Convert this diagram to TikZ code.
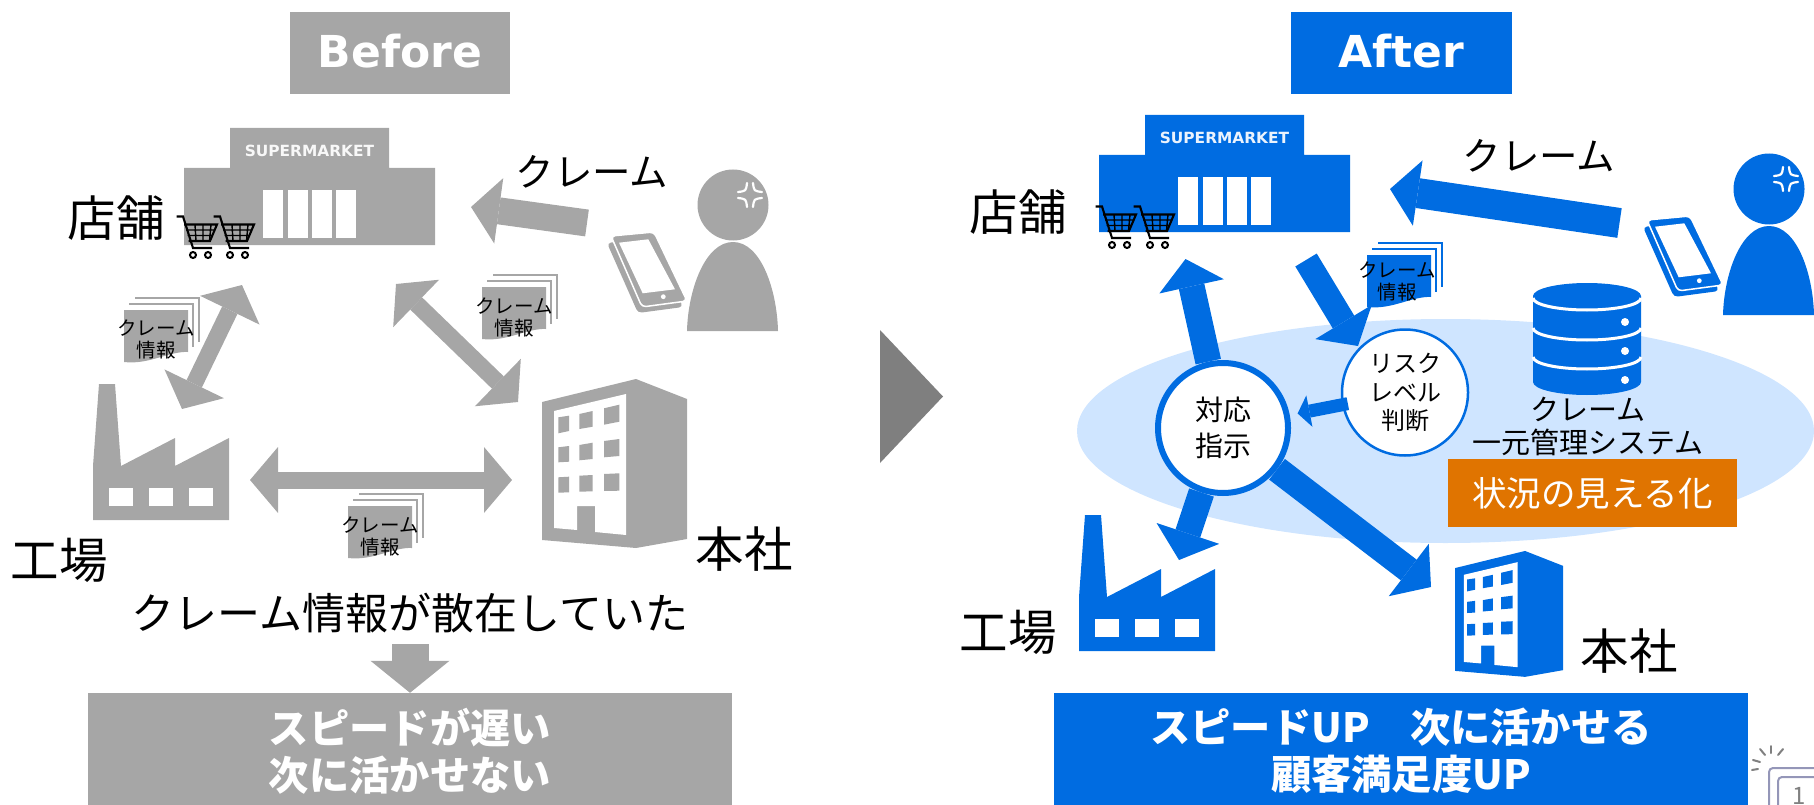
\documentclass[tikz,border=0pt]{standalone}
\usepackage{fontspec}
\usepackage{tikz}
\usetikzlibrary{arrows.meta}
\setmainfont{Noto Sans CJK JP}
\newfontfamily\latinb{DejaVu Sans}
\newcommand{\fsz}[2]{\fontsize{#1}{#2}\selectfont}
\definecolor{sidegray}{HTML}{A6A6A6}
\definecolor{sideblue}{HTML}{006CE1}
\definecolor{paleblue}{HTML}{CFE5FF}
\definecolor{orangebox}{HTML}{E07400}
\definecolor{midgray}{HTML}{7F7F7F}
\definecolor{framec}{HTML}{9496B8}
\tikzset{
  lab/.style={inner sep=0pt,font=\fsz{48.5}{52}},
  claimlab/.style={inner sep=0pt,font=\fsz{38.5}{42}},
  doclab/.style={inner sep=0pt,align=center,font=\fsz{19.5}{22}},
  headbox/.style={fill=#1,text=white,minimum width=220,minimum height=82,inner sep=0pt,font=\latinb\bfseries\fsz{44}{48}},
  footbox/.style={fill=#1,text=white,minimum height=116,inner sep=0pt,align=center,font=\bfseries\fsz{40.3}{47}},
  tipa/.tip={Triangle[length=28pt,width=66pt,line width=0pt]},
  tipb/.tip={Triangle[length=32pt,width=79pt,line width=0pt]},
  tipc/.tip={Triangle[length=12pt,width=32pt,line width=0pt]},
  barrow/.style={draw=#1,line width=17pt},
  store/.pic={
    \fill[icon] (230,128) rectangle (389,168) (184,168) rectangle (435,245);
    \foreach \x in {263,287.7,312,336} \fill[white] (\x,190) rectangle +(20,48);
    \node[text=white!92!icon,inner sep=0pt,font=\latinb\bfseries\fsz{15.4}{18}] (-sign) at (309.5,151) {SUPERMARKET};
  },
  cart/.pic={
    \draw[black,line width=2.1] (176.5,216.5)--(183,216.5)--(193,248)--(212,248);
    \draw[black,line width=2.1] (184,224.5)--(217,224.5)--(210,241)--(188.5,241);
    \draw[black,line width=1.4] (195,224.5)--(196,241) (203,224.5)--(203,241) (211,224.5)--(209.5,241) (186,230)--(215,230) (187.5,235.5)--(212.5,235.5);
    \draw[black,line width=2] (193,255) circle (3) (208,255) circle (3);
  },
  person/.pic={
    \fill[icon] (733,205) circle (35.5);
    \fill[icon] (687,331) .. controls (688,290) and (705,242) .. (733,242) .. controls (761,242) and (777,290) .. (778,331) -- cycle;
    \foreach \sx in {-1,1} \foreach \sy in {-1,1}
      \draw[white,line width=2.2,line cap=round] (750+3*\sx,195+12*\sy) .. controls (750+4*\sx,195+4*\sy) .. (750+12*\sx,195+3*\sy);
    \fill[icon,rounded corners=4] (607,243)--(650,238)--(683,307)--(638,313)--cycle;
    \path[draw=white,fill=icon,line width=1.5,rounded corners=4] (611,236)--(654,232)--(687,301)--(642,307)--cycle;
    \fill[white] (619,242.7)--(648.3,239.3)--(675,289.3)--(642.7,293.3)--cycle;
    \fill[white] (663.3,296.7) circle (2.4);
  },
  docs/.pic={
    \draw[icon,line width=2.5] (5,-6)--(69,-6)--(69,37) (11,-12)--(75,-12)--(75,32);
    \fill[icon] (0,0)--(64,0)--(64,42) .. controls (45,41) and (25,55) .. (0,52) -- cycle;
  },
  factory/.pic={
    \fill[icon] (99,384)--(115,384)--(121,466)--(175,438)--(175,466)--(229,438)--(229,520)--(93,520)--(93,466)--cycle;
    \foreach \x in {109,149,189} \fill[white] (\x,488) rectangle +(24,18);
  },
  office/.pic={
    \fill[icon] (542,402)--(636,379)--(687,399)--(687,539)--(636,548)--(542,540)--cycle;
    \fill[white] (554,411)--(626,394)--(626,535)--(595,532)--(595,506)--(577,506)--(577,530)--(554,528)--cycle;
    \foreach \xa/\xb/\ta/\tb/\ba/\bb in {
      558.3/569/417.3/415.7/433.3/431, 579.3/592.7/414/411/429/426.7, 604/619.3/408.3/404.7/424.7/421.7,
      558.3/569/447.3/446/462.3/461.7, 579.3/592.7/445/442.7/460.3/459, 604/619.3/441/439/457.3/456,
      558.3/569/477.3/476.7/492.7/492.3, 579.3/592.7/475.7/475/491.7/491.3, 604/619.3/474/473.3/491/490.7}
      \fill[icon] (\xa,\ta)--(\xb,\tb)--(\xb,\bb)--(\xa,\ba)--cycle;
  },
  database/.pic={
    \fill[icon] (1533,296) arc[start angle=180,end angle=360,x radius=54,y radius=13] -- (1641,382) arc[start angle=0,end angle=180,x radius=54,y radius=13] -- cycle;
    \foreach \y in {298,328,357}
      \draw[white,line width=3] (1533,\y) arc[start angle=180,end angle=0,x radius=54,y radius=12];
    \foreach \y in {322,351,380} \fill[white] (1625,\y) circle (4);
  }
}
\begin{document}
\begin{tikzpicture}[x=1pt,y=-1pt]
\useasboundingbox (0,0) rectangle (1814,805);
\node[headbox=sidegray] (before) at (400,53) {\raisebox{4pt}{Before}};
\node[headbox=sideblue,minimum width=221] (after) at (1401.5,53) {\raisebox{4pt}{After}};
\begin{scope}
\colorlet{icon}{sidegray}
\pic (s0) at (0,0) {store};
\pic at (0,0) {cart};
\pic at (37,0) {cart};
\pic at (0,0) {person};
\pic at (0,0) {factory};
\pic at (0,0) {office};
\pic at (124,310) {docs};
\pic at (482,287) {docs};
\pic at (348,506) {docs};
\end{scope}
\node[lab] (shop0) at (116,218) {店舗};
\node[lab] (works0) at (59,560) {工場};
\node[lab] (hq0) at (744,549) {本社};
\node[claimlab] (claim0) at (592,172) {クレーム};
\node[doclab] (d01) at (156,339) {クレーム\\情報};
\node[doclab] (d02) at (514,317) {クレーム\\情報};
\node[doclab] (d03) at (380,536) {クレーム\\情報};
\coordinate (a00) at (587,223);
\coordinate (a01) at (471,207);
\coordinate (a10) at (182,409);
\coordinate (a11) at (242,285);
\coordinate (a20) at (396,284);
\coordinate (a21) at (518,402);
\coordinate (a30) at (250,480);
\coordinate (a31) at (512,480);
\draw[barrow=sidegray,line width=27pt,-tipa] (a00) to (a01);
\draw[barrow=sidegray,tipa-tipa] (a10) to (a11);
\draw[barrow=sidegray,tipa-tipa] (a20) to (a21);
\draw[barrow=sidegray,tipa-tipa] (a30) to (a31);
\node[inner sep=0pt,font=\fsz{43}{46}] (scatter) at (410,613) {クレーム情報が散在していた};
\node[footbox=sidegray,minimum width=644] (result0) at (410,751) {スピードが遅い\\次に活かせない};
\coordinate (a40) at (410,644);
\draw[barrow=sidegray,line width=37pt,-tipb] (a40) to (result0.north);
\fill[midgray] (880,330) -- (943,396.5) -- (880,463) -- cycle;
\fill[paleblue] (1445.5,431) ellipse (368.5 and 112);
\begin{scope}
\colorlet{icon}{sideblue}
\pic (s1) at (915,-13) {store};
\pic at (919,-10) {cart};
\pic at (957,-10) {cart};
\pic at (1036,-16) {person};
\pic at (986,131) {factory};
\pic[scale=.745] at (1051.2,268.6) {office};
\pic at (1367,255) {docs};
\pic at (0,0) {database};
\end{scope}
\node[lab] (shop1) at (1018,212) {店舗};
\node[lab] (works1) at (1008,632) {工場};
\node[lab] (hq1) at (1629,651) {本社};
\node[claimlab] (claim1) at (1539,156) {クレーム};
\node[doclab] (d11) at (1397,281) {クレーム\\情報};
\node[circle,draw=sideblue,fill=white,line width=6pt,minimum size=130,inner sep=0pt,align=center,font=\fsz{28}{36}] (resp) at (1223,428) {対応\\指示};
\node[circle,draw=sideblue,fill=white,line width=2.5pt,minimum size=126,inner sep=0pt,align=center,font=\fsz{24}{28.5}] (risk) at (1405,392.5) {リスク\\レベル\\判断};
\node[inner sep=0pt,align=center,font=\fsz{29}{33}] (dbname) at (1588,426) {クレーム\\一元管理システム};
\node[fill=orangebox,text=white,minimum width=289,minimum height=68,inner sep=0pt,font=\fsz{34.5}{38}] (visible) at (1592.5,493) {状況の見える化};
\node[footbox=sideblue,minimum width=694] (result1) at (1401,751) {スピードUP　次に活かせる\\顧客満足度UP};
\coordinate (b00) at (1619.5,223);
\coordinate (b01) at (1390,189);
\coordinate (b10) at (1185.5,259);
\coordinate (b20) at (1179,560);
\coordinate (b30) at (1431,587);
\coordinate (b40) at (1306,260);
\coordinate (b41) at (1358,346);
\draw[barrow=sideblue,line width=30pt,-tipa] (b00) to (b01);
\draw[barrow=sideblue,line width=26pt,-tipa] (resp) to (b10);
\draw[barrow=sideblue,line width=26pt,-tipa] (resp) to (b20);
\draw[barrow=sideblue,line width=26pt,-tipa] (resp) to (b30);
\draw[barrow=sideblue,line width=25pt,-tipa] (b40) to (b41);
\draw[barrow=sideblue,line width=13pt,-tipc,shorten <=-6pt,shorten >=8pt] (risk) to (resp);
\foreach \xa/\ya/\xb/\yb in {1752/770/1758/769, 1753/760/1760/762, 1760/749/1765/755, 1771/746/1771/753, 1783/749/1778/755}
  \draw[gray,line width=2pt,line cap=round] (\xa,\ya) -- (\xb,\yb);
\draw[framec,line width=2pt,rounded corners=4pt] (1769,805) -- (1769,768) -- (1814,768);
\draw[framec,line width=2pt,rounded corners=4pt] (1778,805) -- (1778,777) -- (1814,777);
\node[text=gray,inner sep=0pt,font=\fsz{24}{26}] (pageno) at (1799,796) {1};
\end{tikzpicture}
\end{document}
